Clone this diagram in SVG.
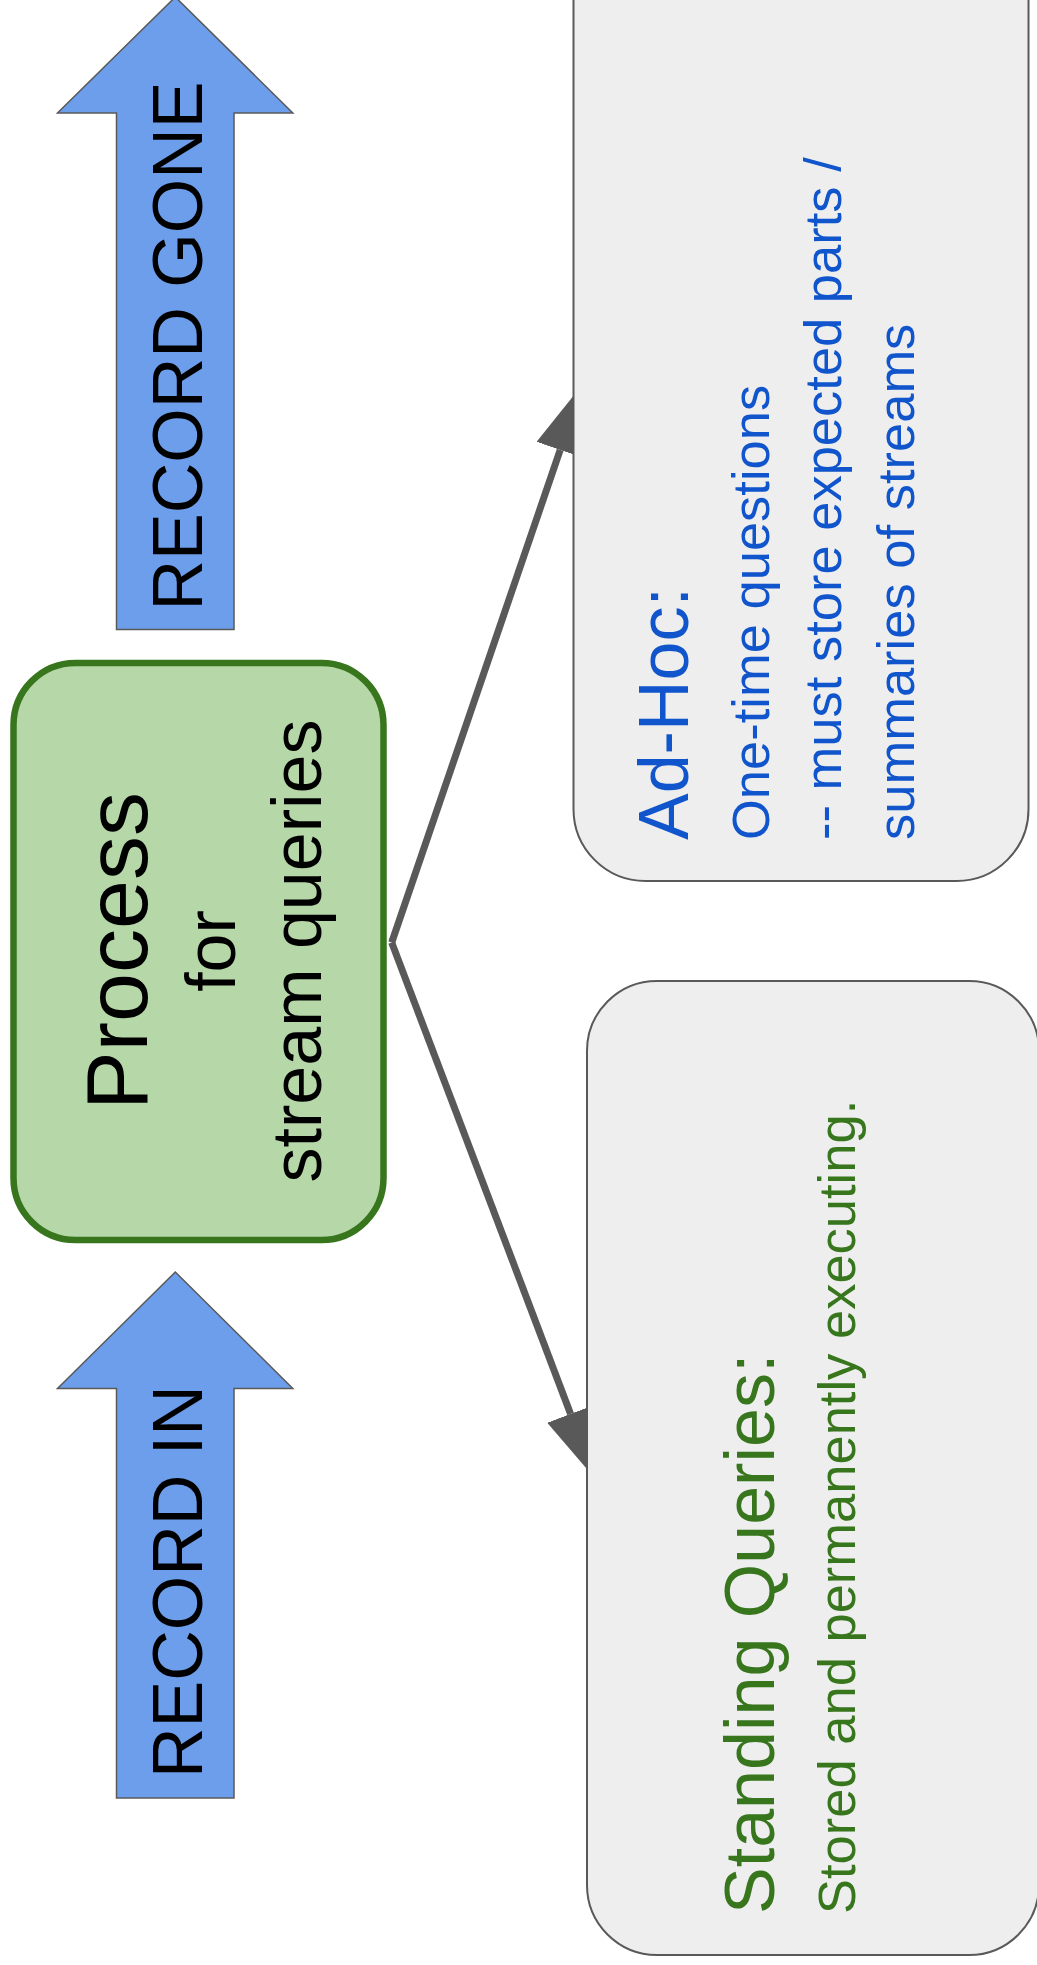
<svg xmlns="http://www.w3.org/2000/svg" width="1037" height="1965" viewBox="0 0 1037 1965">
  <style>
    .txt { font-family: "Liberation Sans", Arial, sans-serif; }
    .big { font-size: 70px; }
    .small { font-size: 52.5px; }
    .blk { fill: #000000; }
    .blue { fill: #1155cc; }
    .green { fill: #38761d; }
    .arrowshape { fill: #6d9eeb; stroke: #595959; stroke-width: 1.5; }
    .card { fill: #eeeeee; stroke: #595959; stroke-width: 2; }
    .conn { fill: none; stroke: #595959; stroke-width: 7; }
  </style>
  <defs>
    <marker id="ah" viewBox="0 -25 69 50" markerWidth="69" markerHeight="50" refX="0" refY="0" orient="auto" markerUnits="userSpaceOnUse">
      <path d="M0,-25 L69,0 L0,25 Z" fill="#595959"/>
    </marker>
  </defs>
  <rect width="1037" height="1965" fill="#ffffff"/>

  <g id="connectors">
    <path class="conn" d="M391.7,942.5 L560.2,449.9" marker-end="url(#ah)"/>
    <path class="conn" d="M391.7,942.5 L570.6,1413.9" marker-end="url(#ah)"/>
  </g>

  <g id="record-gone">
    <path class="arrowshape" d="M175.3,-3 L292.8,113 L234,113 L234,629.5 L116.5,629.5 L116.5,113 L57.5,113 Z"/>
    <text class="txt big blk" transform="translate(202,610.5) rotate(-90)">RECORD GONE</text>
  </g>

  <g id="record-in">
    <path class="arrowshape" d="M175.3,1272 L292.8,1388.5 L234,1388.5 L234,1798 L116.5,1798 L116.5,1388.5 L57.5,1388.5 Z"/>
    <text class="txt big blk" transform="translate(202,1778) rotate(-90)">RECORD IN</text>
  </g>

  <g id="process">
    <rect x="13.5" y="663" width="370" height="577" rx="62" ry="62" fill="#b6d7a8" stroke="#38761d" stroke-width="6.5"/>
    <text class="txt blk" font-size="88" text-anchor="middle" transform="translate(146.6,951) rotate(-90)">Process</text>
    <text class="txt big blk" text-anchor="middle" transform="translate(235.4,951) rotate(-90)">for</text>
    <text class="txt big blk" text-anchor="middle" transform="translate(320.7,951) rotate(-90)">stream queries</text>
  </g>

  <g id="ad-hoc">
    <rect class="card" x="573.5" y="-100" width="455" height="981" rx="72" ry="72"/>
    <text class="txt big blue" transform="translate(688.4,840) rotate(-90)">Ad-Hoc:</text>
    <text class="txt small blue" transform="translate(768.8,840) rotate(-90)">One-time questions</text>
    <text class="txt small blue" transform="translate(840.8,840) rotate(-90)">-- must store expected parts /</text>
    <text class="txt small blue" transform="translate(914.4,840) rotate(-90)">summaries of streams</text>
  </g>

  <g id="standing">
    <rect class="card" x="587" y="981" width="452" height="974" rx="70" ry="70"/>
    <text class="txt big green" transform="translate(774,1914) rotate(-90)">Standing Queries:</text>
    <text class="txt small green" transform="translate(854.5,1914) rotate(-90)">Stored and permanently executing.</text>
  </g>
</svg>
